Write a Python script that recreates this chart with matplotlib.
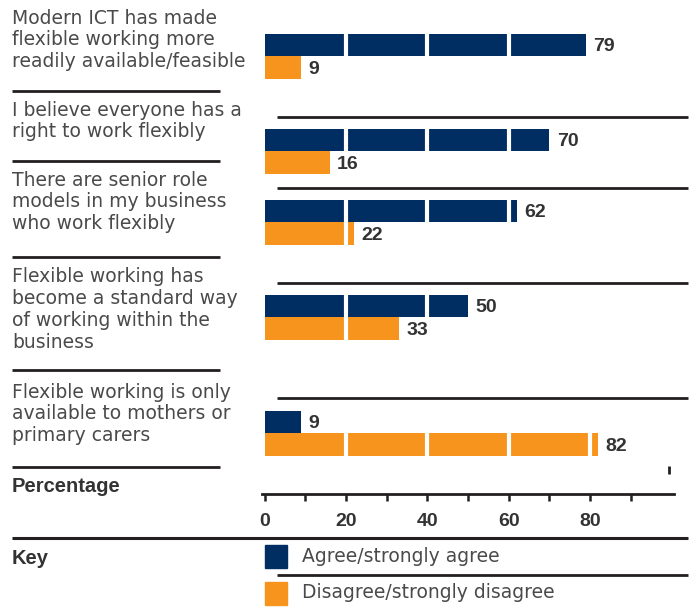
import matplotlib
matplotlib.use("Agg")
import matplotlib.pyplot as plt
from matplotlib.patches import Rectangle

# ---- data ----
categories = [
    "Modern ICT has made\nflexible working more\nreadily available/feasible",
    "I believe everyone has a\nright to work flexibly",
    "There are senior role\nmodels in my business\nwho work flexibly",
    "Flexible working has\nbecome a standard way\nof working within the\nbusiness",
    "Flexible working is only\navailable to mothers or\nprimary carers",
]
agree = [79, 70, 62, 50, 9]
disagree = [9, 16, 22, 33, 82]
tick_values = [0, 10, 20, 30, 40, 50, 60, 70, 80, 90]
tick_labels = ["0", "", "20", "", "40", "", "60", "", "80", ""]
series_names = ["Agree/strongly agree", "Disagree/strongly disagree"]
axis_title = "Percentage"
key_title = "Key"

# ---- style / layout (pixels) ----
W, H = 696, 607
NAVY = "#002d62"
ORANGE = "#f7941d"
TXT = "#4a4a4a"
DARK = "#333333"
LINE = "#231f20"
BODY = ["DejaVu Sans"]
BOLD = ["Liberation Sans", "DejaVu Sans"]
plt.rcParams["font.family"] = BOLD

group_centers = [56, 151, 222, 317, 433]
bar_h = 22.5
first_line_y = [18, 110, 180, 277, 392]
line_pitch = 21.7
left_sep_y = [91, 161, 257, 370, 467]
right_sep_y = [117, 188, 283, 398]

x0_px, px_per_unit = 264.5, 4.07
xmin, xmax = -0.5, 100.5
ax_left = x0_px + xmin * px_per_unit
ax_width = (xmax - xmin) * px_per_unit

fig = plt.figure(figsize=(W / 100, H / 100), dpi=100)

# bar axes: x in data units, y in pixel units (top = 0)
ax = fig.add_axes([ax_left / W, 0, ax_width / W, 1])
ax.set_xlim(xmin, xmax)
ax.set_ylim(H, 0)
ax.axis("off")

for i in range(len(categories)):
    c = group_centers[i]
    ax.barh(c - bar_h / 2, agree[i], height=bar_h, left=0, color=NAVY, zorder=2)
    ax.barh(c + bar_h / 2, disagree[i], height=bar_h, left=0, color=ORANGE, zorder=2)
    ax.text(agree[i] + 1.8, c - bar_h / 2 + 2, str(agree[i]), ha="left", va="center",
            fontsize=14, fontweight="bold", color=DARK, zorder=4, family=BOLD)
    ax.text(disagree[i] + 1.8, c + bar_h / 2 + 2, str(disagree[i]), ha="left", va="center",
            fontsize=14, fontweight="bold", color=DARK, zorder=4, family=BOLD)
for g in [20, 40, 60, 80]:
    ax.axvline(g, color="white", lw=3.0, zorder=3)

# axis axes
axis_y = 494
ax2 = fig.add_axes([ax_left / W, (H - axis_y) / H, ax_width / W, 0.001])
ax2.set_xlim(xmin, xmax)
for s in ["top", "left", "right"]:
    ax2.spines[s].set_visible(False)
ax2.spines["bottom"].set_color(LINE)
ax2.spines["bottom"].set_linewidth(2.0)
ax2.set_yticks([])
ax2.set_xticks(tick_values)
ax2.set_xticklabels(tick_labels)
ax2.tick_params(axis="x", direction="out", length=5, width=1.8, color=LINE, pad=9,
                labelsize=14, labelcolor=DARK)
for lab in ax2.get_xticklabels():
    lab.set_fontweight("bold")
ax2.patch.set_visible(False)

# overlay for text and rules
ov = fig.add_axes([0, 0, 1, 1])
ov.set_xlim(0, W)
ov.set_ylim(H, 0)
ov.axis("off")
ov.patch.set_visible(False)

for i, cat in enumerate(categories):
    for j, line in enumerate(cat.split("\n")):
        ov.text(12, first_line_y[i] + j * line_pitch, line, ha="left", va="center",
                fontsize=13.5, color=TXT, family=BODY)
for y in left_sep_y:
    ov.plot([12, 220], [y, y], color=LINE, lw=2.0, solid_capstyle="butt")
for y in right_sep_y:
    ov.plot([277, 688], [y, y], color=LINE, lw=2.0, solid_capstyle="butt")

ov.plot([669, 669], [466, 474], color=LINE, lw=2.0, solid_capstyle="butt")

ov.text(12, 487, axis_title, ha="left", va="center", fontsize=14.5, fontweight="bold",
        color=DARK, family=BOLD)
ov.plot([12, 688], [538, 538], color=LINE, lw=2.2, solid_capstyle="butt")
ov.text(12, 558, key_title, ha="left", va="center", fontsize=14.5, fontweight="bold",
        color=DARK, family=BOLD)

ov.add_patch(Rectangle((265, 545), 22, 23, color=NAVY))
ov.add_patch(Rectangle((265, 582), 22, 23, color=ORANGE))
ov.text(302, 556, series_names[0], ha="left", va="center", fontsize=13.5, color=TXT, family=BODY)
ov.text(302, 593, series_names[1], ha="left", va="center", fontsize=13.5, color=TXT, family=BODY)
ov.plot([277, 688], [575, 575], color=LINE, lw=2.0, solid_capstyle="butt")

fig.savefig("out.png", dpi=100)
